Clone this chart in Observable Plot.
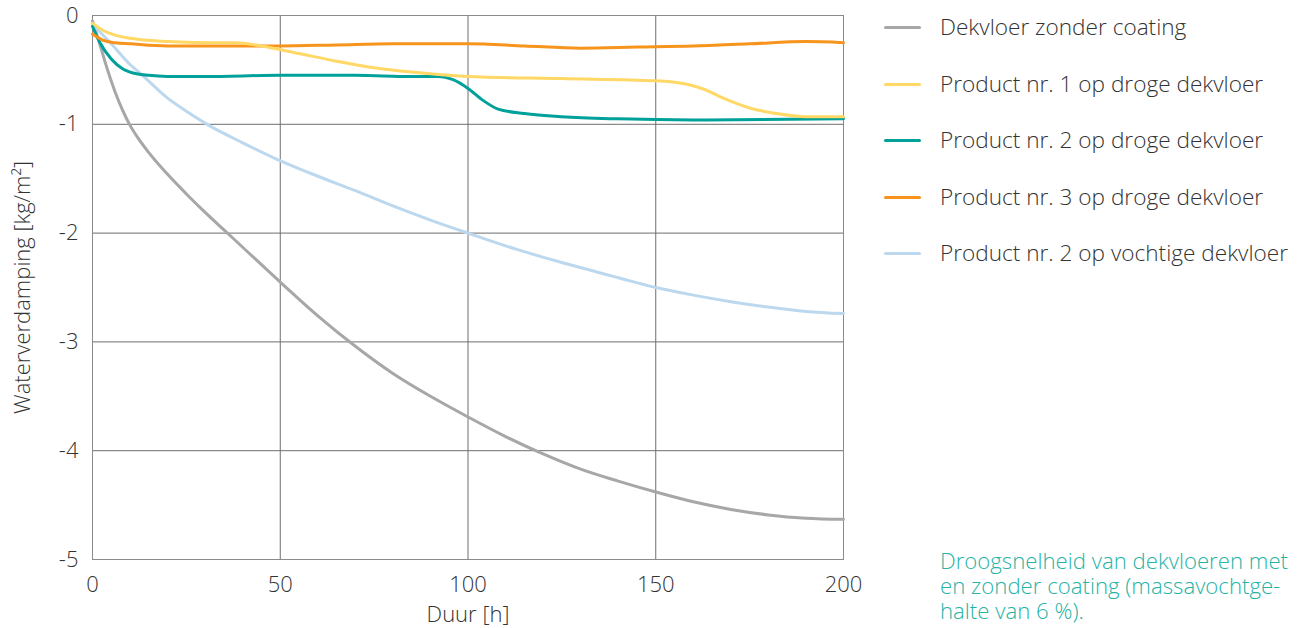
<!DOCTYPE html>
<html><head><meta charset="utf-8">
<script src="https://cdn.jsdelivr.net/npm/d3@7"></script>
<script src="https://cdn.jsdelivr.net/npm/@observablehq/plot@0.6"></script>
<style>
body{margin:0;background:#fff;font-family:"Open Sans",sans-serif;}
#wrap{position:relative;width:1301px;height:628px;}
#chart{position:absolute;left:0;top:0;}
#legend{position:absolute;left:884px;top:0;}
.item{position:absolute;left:0;white-space:nowrap;font-size:22.6px;color:#333;font-weight:300;}
.sw{position:absolute;left:0;width:37px;height:3px;border-radius:2px;}
.lab{position:absolute;left:56px;}
#caption{position:absolute;left:940px;top:548px;font-size:22.2px;line-height:25px;color:#26b3a5;font-weight:300;white-space:nowrap;}
</style></head>
<body><div id="wrap"><div id="chart"></div><div id="legend"></div>
<div id="caption">Droogsnelheid van dekvloeren met<br>en zonder coating (massavochtge-<br>halte van 6 %).</div></div>
<script>
const seriesNames = ["Dekvloer zonder coating","Product nr. 1 op droge dekvloer","Product nr. 2 op droge dekvloer","Product nr. 3 op droge dekvloer","Product nr. 2 op vochtige dekvloer"];
const seriesColors = ["#a7a7a9","#ffd866","#00a19a","#f7941d","#bcd8ee"];

const grayH = [0,2,4,6,8,10,12,15,20,25,30,35,40,50,60,70,80,90,100,110,120,130,140,150,160,170,180,190,200];
const grayV = [-0.05,-0.27,-0.5,-0.7,-0.87,-1.01,-1.12,-1.26,-1.46,-1.64,-1.81,-1.97,-2.13,-2.45,-2.76,-3.04,-3.29,-3.50,-3.69,-3.87,-4.03,-4.17,-4.28,-4.38,-4.47,-4.54,-4.59,-4.62,-4.63];

const yellowH = [0,3,6,10,20,30,38,45,55,65,75,85,100,125,150,158,163,168,175,182,190,200];
const yellowV = [-0.07,-0.14,-0.18,-0.21,-0.24,-0.25,-0.25,-0.28,-0.35,-0.42,-0.48,-0.52,-0.56,-0.58,-0.6,-0.63,-0.68,-0.76,-0.85,-0.9,-0.93,-0.93];

const tealH = [0,2,5,8,10,15,20,30,50,70,85,92,96,100,104,108,115,125,140,160,200];
const tealV = [-0.1,-0.25,-0.4,-0.49,-0.52,-0.55,-0.56,-0.56,-0.55,-0.55,-0.56,-0.56,-0.59,-0.67,-0.78,-0.86,-0.9,-0.93,-0.95,-0.96,-0.95];

const orangeH = [0,3,6,10,20,35,50,65,80,100,115,130,145,160,175,190,200];
const orangeV = [-0.17,-0.23,-0.25,-0.26,-0.28,-0.28,-0.28,-0.27,-0.26,-0.26,-0.28,-0.3,-0.29,-0.28,-0.26,-0.24,-0.25];

const blueH = [0,5,10,13,20,25,31,40,49,58,70,80,90,100,113,126,140,150,160,170,180,190,200];
const blueV = [-0.08,-0.26,-0.45,-0.54,-0.76,-0.88,-1.01,-1.17,-1.32,-1.45,-1.61,-1.75,-1.88,-2.0,-2.15,-2.28,-2.41,-2.5,-2.57,-2.63,-2.68,-2.72,-2.74];

const xTicks = [0,50,100,150,200];
const yTicks = [0,-1,-2,-3,-4,-5];

const toRows = (hs, vs, s) => hs.map((h,i)=>({h, v: vs[i], s}));
const rows = {
  gray: toRows(grayH, grayV, seriesNames[0]),
  yellow: toRows(yellowH, yellowV, seriesNames[1]),
  teal: toRows(tealH, tealV, seriesNames[2]),
  orange: toRows(orangeH, orangeV, seriesNames[3]),
  blue: toRows(blueH, blueV, seriesNames[4])
};
const ln = (d, c) => Plot.line(d, {x:"h", y:"v", stroke:c, strokeWidth:3, curve:"monotone-x"});

const chart = Plot.plot({
  width: 880, height: 628,
  marginLeft: 92, marginRight: 37, marginTop: 15, marginBottom: 69,
  style: {fontFamily: '"Open Sans", sans-serif', fontSize: "22px", color: "#333", fontWeight: 300},
  x: {domain: [0,200]},
  y: {domain: [-5,0]},
  marks: [
    Plot.gridX(xTicks, {stroke:"#6e6e6e", strokeOpacity:1, strokeWidth:1}),
    Plot.gridY(yTicks, {stroke:"#6e6e6e", strokeOpacity:1, strokeWidth:1}),
    Plot.frame({stroke:"#8a8a8a"}),
    ln(rows.gray, seriesColors[0]),
    ln(rows.blue, seriesColors[4]),
    ln(rows.teal, seriesColors[2]),
    ln(rows.orange, seriesColors[3]),
    ln(rows.yellow, seriesColors[1]),
    Plot.axisX(xTicks, {tickSize:0, tickPadding:17, fontSize:22, fill:"#333", label:null, tickFormat: d => String(d)}),
    Plot.axisY(yTicks, {tickSize:0, tickPadding:14, fontSize:22, fill:"#333", label:null, tickFormat: d => String(d)}),
    Plot.text(["Duur [h]"], {frameAnchor:"bottom", dy:62, fontSize:22, fill:"#333"}),
    Plot.text(["Waterverdamping [kg/m²]"], {frameAnchor:"left", dx:-70, rotate:-90, textAnchor:"middle", fontSize:22, fill:"#333"})
  ]
});
document.getElementById("chart").appendChild(chart);

const legend = document.getElementById("legend");
seriesNames.forEach((n,i)=>{
  const y = 27 + i*56.5;
  const it = document.createElement("div");
  it.className = "item";
  it.style.top = (y-16) + "px";
  it.innerHTML = `<div class="sw" style="top:15px;background:${seriesColors[i]}"></div><div class="lab">${n}</div>`;
  legend.appendChild(it);
});
</script></body></html>
